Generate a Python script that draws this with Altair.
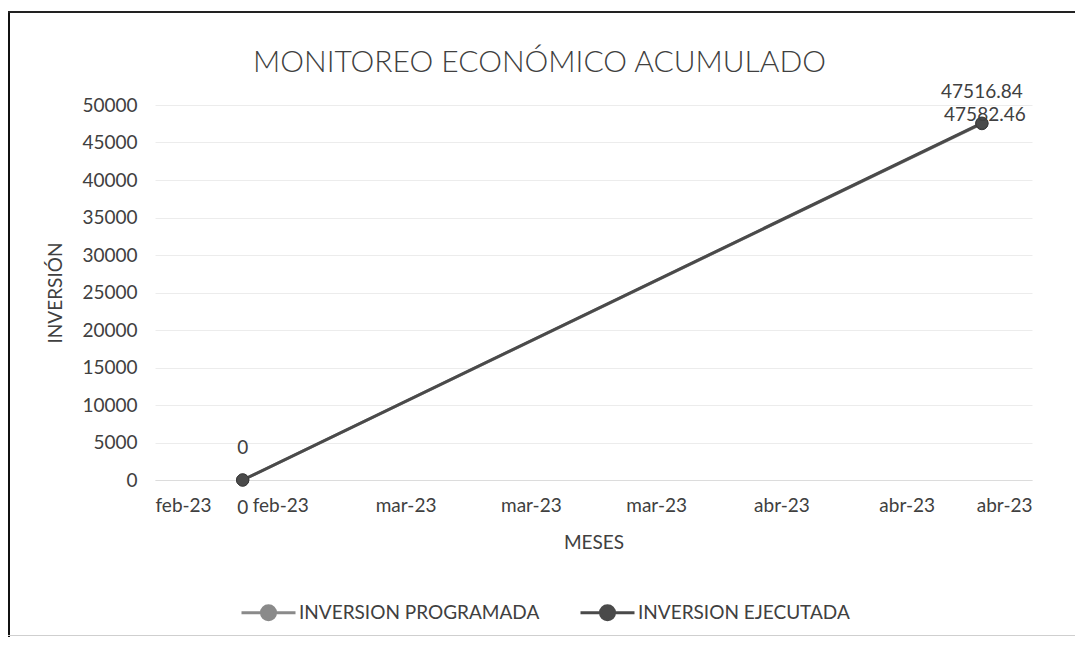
import altair as alt
import pandas as pd

# ---------------- data ----------------
series = ["INVERSION PROGRAMADA", "INVERSION EJECUTADA"]
fechas = ["2023-02-17", "2023-04-17"]
programada = [0, 47516.84]
ejecutada = [0, 47582.46]
tick_fechas = ["2023-02-10", "2023-02-20", "2023-03-02", "2023-03-12",
               "2023-03-22", "2023-04-01", "2023-04-11", "2023-04-21"]
y_ticks = [0, 5000, 10000, 15000, 20000, 25000, 30000, 35000, 40000, 45000, 50000]
meses = ["ene", "feb", "mar", "abr", "may", "jun", "jul", "ago", "sep", "oct", "nov", "dic"]

colores = ["#8a8a8a", "#4a4a4a"]
FONT = "Lato"
TXT = "#404040"


def etiqueta(v):
    return ("%.2f" % v).rstrip("0").rstrip(".")


rows = []
for i, f in enumerate(fechas):
    rows.append({"serie": series[0], "fecha": f, "valor": programada[i], "idx": i,
                 "etq": etiqueta(programada[i])})
for i, f in enumerate(fechas):
    rows.append({"serie": series[1], "fecha": f, "valor": ejecutada[i], "idx": i,
                 "etq": etiqueta(ejecutada[i])})
df = pd.DataFrame(rows)


def dt(s):
    y, m, d = (int(p) for p in s.split("-"))
    return alt.DateTime(year=y, month=m, date=d, utc=True)


label_expr = ("[" + ",".join("'%s'" % m for m in meses) + "][utcmonth(datum.value)]"
              " + '-' + utcFormat(datum.value, '%y')")

x_enc = alt.X(
    "fecha:T",
    scale=alt.Scale(type="utc", domain=[dt(tick_fechas[0]), dt(tick_fechas[-1])]),
    axis=alt.Axis(values=[dt(t) for t in tick_fechas], labelExpr=label_expr,
                  title="MESES", grid=False, ticks=False, tickSize=0,
                  domain=True, domainColor="#dcdcdc", labelPadding=16,
                  titlePadding=18),
)
y_enc = alt.Y(
    "valor:Q",
    scale=alt.Scale(domain=[0, 50000], nice=False),
    axis=alt.Axis(values=y_ticks, title="INVERSIÓN", grid=True, gridColor="#ececec",
                  ticks=False, tickSize=0, domain=False, labelPadding=18,
                  titlePadding=16, format="d"),
)
color_enc = alt.Color(
    "serie:N",
    scale=alt.Scale(domain=series, range=colores),
    sort=series,
    legend=alt.Legend(title=None, orient="none", legendX=85, legendY=479,
                      direction="horizontal", columns=2, columnPadding=34,
                      labelOffset=2, padding=0, labelLimit=0),
)

base = alt.Chart(df)
lines = base.mark_line(strokeWidth=3).encode(x=x_enc, y=y_enc, color=color_enc)
points = base.mark_point(filled=True, size=150, opacity=1, stroke="#3a3a3a",
                         strokeWidth=1).encode(x=x_enc, y=y_enc, color=color_enc)

lab_prog = base.mark_text(font=FONT, fontSize=19, color=TXT, baseline="middle",
                          dy=-32).encode(x=x_enc, y=y_enc, text="etq:N").transform_filter(
    alt.datum.serie == series[0])
lab_ej0 = base.mark_text(font=FONT, fontSize=19, color=TXT, baseline="middle",
                         dy=28).encode(x=x_enc, y=y_enc, text="etq:N").transform_filter(
    (alt.datum.serie == series[1]) & (alt.datum.idx == 0))
lab_ej1 = base.mark_text(font=FONT, fontSize=19, color=TXT, baseline="middle",
                         dy=-8, dx=3).encode(x=x_enc, y=y_enc, text="etq:N").transform_filter(
    (alt.datum.serie == series[1]) & (alt.datum.idx == 1))

deco = alt.Chart(pd.DataFrame({"d": [0]}))
borde_izq = deco.mark_rule(color="#111111", strokeWidth=4).encode(
    x=alt.value(-147), y=alt.value(-94), y2=alt.value(532))
borde_sup = deco.mark_rule(color="#222222", strokeWidth=2).encode(
    x=alt.value(-147), x2=alt.value(930), y=alt.value(-93))
borde_inf = deco.mark_rule(color="#cfcfcf", strokeWidth=1).encode(
    x=alt.value(-147), x2=alt.value(930), y=alt.value(530.5))

legend_symbol = ("M-1,0L-0.26,0M0.26,0L1,0"
                 "M-0.26,0A0.26,0.26,0,1,1,0.26,0A0.26,0.26,0,1,1,-0.26,0Z")

chart = alt.layer(
    borde_izq, borde_sup, borde_inf, lines, points, lab_prog, lab_ej0, lab_ej1
).properties(
    width=877,
    height=375,
    background="white",
    autosize=alt.AutoSizeParams(type="none"),
    padding={"left": 147, "top": 97, "right": 43, "bottom": 157},
    title=alt.Title("MONITOREO ECONÓMICO ACUMULADO", font=FONT, fontSize=30,
                    fontWeight=300, color=TXT, anchor="middle", dx=-54,
                    baseline="alphabetic", offset=-93),
).configure_view(stroke=None).configure_axis(
    labelFont=FONT, labelFontSize=19, labelColor=TXT,
    titleFont=FONT, titleFontSize=19, titleFontWeight="normal", titleColor=TXT,
).configure_legend(
    labelFont=FONT, labelFontSize=19, labelColor=TXT,
    symbolType=legend_symbol, symbolSize=2916, symbolStrokeWidth=3,
    symbolStrokeColor="#555555",
)

chart.save("out.html", embed_options={"renderer": "svg", "actions": False})
